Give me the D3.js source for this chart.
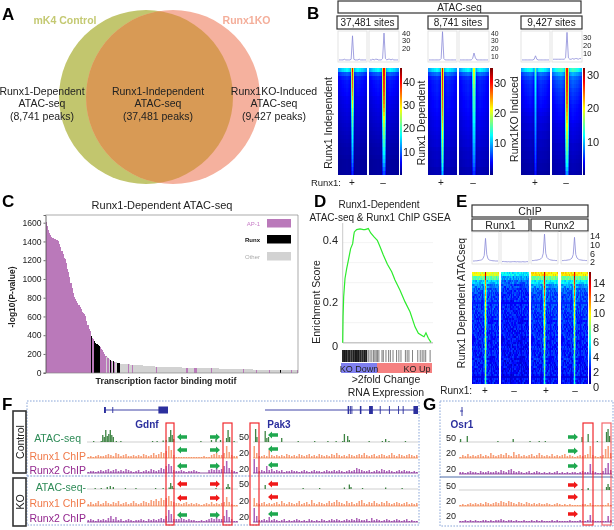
<!DOCTYPE html>
<html><head><meta charset="utf-8">
<script src="https://cdn.jsdelivr.net/npm/d3@7"></script>
<style>
html,body{margin:0;padding:0;background:#fff}
svg{display:block;filter:blur(0.4px)}
text{font-family:"Liberation Sans",Arial,sans-serif;fill:#222}
</style></head><body>
<svg id="fig" width="614" height="530" viewBox="0 0 614 530"></svg>
<script>
// ---------- DATA ----------
// A
const vennLabels=[["Runx1-Dependent","ATAC-seq","(8,741 peaks)"],["Runx1-Independent","ATAC-seq","(37,481 peaks)"],["Runx1KO-Induced","ATAC-seq","(9,427 peaks)"]];
// B : fraction of colour bar per heat map row
const b1PlusCenter=[.88,.84,.82,.8,.78,.75,.72,.68,.64,.6,.56,.53,.5,.47,.45,.42,.4,.38,.36,.34,.32,.3,.28,.26,.23,.2,.17];
const b1MinusCenter=[.88,.87,.85,.84,.83,.82,.8,.78,.76,.73,.7,.66,.62,.58,.55,.52,.5,.47,.44,.42,.39,.37,.34,.32,.28,.24,.2];
const b2PlusCenter=[.9,.88,.87,.85,.84,.83,.82,.8,.78,.77,.75,.73,.7,.68,.65,.63,.6,.58,.55,.53,.5,.48,.46,.44,.4,.36,.32];
const b2MinusCenter=[.62,.58,.55,.53,.5,.48,.47,.45,.44,.43,.42,.4,.39,.38,.36,.35,.34,.33,.32,.3,.29,.28,.26,.25,.23,.2,.17];
const b3PlusCenter=[.5,.44,.4,.38,.37,.36,.35,.34,.33,.32,.31,.3,.3,.29,.28,.27,.26,.25,.24,.23,.22,.21,.2,.19,.17,.16,.14];
const b3MinusCenter=[.86,.85,.84,.84,.83,.82,.8,.79,.78,.75,.73,.7,.68,.65,.62,.6,.57,.55,.52,.5,.48,.45,.42,.4,.37,.33,.28];
const b1Flank=[.34,.2,.15,.135,.13,.125,.12,.11,.1,.095,.09,.085,.08,.075,.07,.065,.06,.055,.05,.045,.04,.04,.035,.03,.03,.03,.03];
const b2Flank=[.34,.22,.16,.145,.14,.14,.135,.13,.125,.125,.12,.115,.11,.1,.1,.095,.09,.085,.08,.08,.07,.065,.065,.06,.06,.05,.05];
const b3PlusFlank=[.36,.22,.18,.16,.15,.145,.14,.13,.125,.12,.11,.1,.09,.09,.08,.08,.07,.07,.06,.06,.055,.05,.05,.045,.04,.04,.035];
const b3MinusFlank=[.4,.28,.22,.2,.19,.175,.165,.155,.145,.135,.13,.125,.12,.11,.1,.095,.09,.085,.08,.07,.07,.065,.06,.055,.05,.05,.045];
const bColPeak=[0,0,0,0,0,0,0,0,0,0,0,0,0,.65,1,.65,0,0,0,0,0,0,0,0,0,0,0,0,0];
const bColFlank=[.8,.85,.9,.95,1,1,1.05,1.05,1.1,1.1,1.05,1,.85,.65,.5,.65,.85,1,1.05,1.1,1.1,1.05,1.05,1,1,.95,.9,.85,.8];
const b1PlusProfile=[3,3,3,3,4,3,3,3,3,4,38,4,3,3,3,4,3,3,3,3,3];
const b1MinusProfile=[3,3,4,3,4,4,3,3,3,5,42,5,3,4,4,3,4,3,3,3,3];
const b2PlusProfile=[3,3,3,3,3,3,3,3,3,5,44,5,3,3,3,3,3,3,3,3,3];
const b2MinusProfile=[3,3,3,3,3,3,3,3,3,5,13,6,3,3,3,3,3,3,3,3,3];
const b3PlusProfile=[3,3,3,3,3,3,3,3,3,4,9,4,3,3,3,3,3,3,3,3,3];
const b3MinusProfile=[4,4,4,4,4,4,4,4,4,6,43,6,4,4,5,4,5,5,4,5,5];
const b1BarTicks=[10,20,30,40], b2BarTicks=[10,20,30], b3BarTicks=[10,20,30];
// C
const motifP=[1610,1570,1520,1490,1470,1450,1440,1430,1425,1420,1415,1400,1370,1340,1300,1270,1225,1210,1170,1110,1070,1020,960,900,850,810,785,765,745,720,700,675,650,635,630,600,550,510,470,440,395,375,355,335,315,305,295,285,270,255,245,225,200,180,165,155,145,135,130,125,120,115,112,108,105,100,97,95,94,93,92,91,90,89,88,87,86,85,84,83,82,81,80,79,78,77,76,75,74,73,72,71,70,70,69,68,67,66,66,65,65,64,64,63,63,62,62,61,61,60,60,59,59,58,58,58,57,57,56,56,56,55,55,55,54,54,54,53,53,53,52,52,52,51,51,51,50,50,50,49,49,49,48,48,48,47,47,47,46,46,46,45,45,45,44,44,44,43,43,43,42,42,42,41,41,41,40,40,40,39,39,39,38,38,38,37,37,37,36,36,36,35,35,35,34,34,34,33,33,33,32,32,32,31,31,31,30,30,30,30,29,29,29,29,28,28,28,28,27,27,27,27,26,26,26,26,25,25,25,25,25,25,25,25];
const motifRunx=[40,43,44,45,46,47,57,60,63,64,65,208];
const motifAp1Late=[55,58,61,73,77,98,125,132,133,147,175,187,198,218,223,230];
const motifTicks=[0,200,400,600,800,1000,1200,1400,1600];
// D
const gseaRank=[0,.4,1.1,2.6,4.5,6.4,9,11.3,12.5,13.2,15.8,19.6,23.4,25.3,29,31.7,35.5,39.2,42.3,46,50.6,55.5,59.2,64.9,70.6,76.2,81.9,85.7,90.6,92.1,94.3,97,100];
const gseaES=[0,.1,.177,.247,.285,.317,.362,.381,.413,.426,.435,.438,.435,.435,.439,.422,.407,.394,.369,.337,.302,.273,.241,.202,.157,.119,.061,.036,.026,.023,.038,.017,.001];
const gseaHits=[0,1.2,2.2,3.5,4.5,6,7,8,9.5,10.5,12,13,14.5,15.5,17,18,19.5,20.5,22,23,24.5,25.5,27,29,31,33,35,36.5,38,39.5,41,44.5,46,49,52,54,57,61,63.6,66,71,73,75,79,85,87.8,90,92,94,99];
const gseaGrid=[.077,.154,.231,.308,.385];
// E
const eR1PlusCenter=[.92,.9,.75,.72,.7,.68,.66,.65,.64,.62,.61,.6,.58,.57,.56,.55,.54,.54,.53,.52,.52,.51,.5,.5,.49,.48,.47,.46];
const eR1MinusCenter=[0,0,0,0,0,0,0,0,0,0,0,0,0,0,0,0,0,0,0,0,0,0,0,0,0,0,0,0];
const eR2PlusCenter=[.92,.92,.88,.85,.8,.76,.72,.7,.68,.66,.65,.63,.62,.6,.58,.57,.56,.54,.53,.52,.5,.49,.48,.47,.46,.45,.44,.42];
const eR2MinusCenter=[.9,.9,.86,.82,.78,.74,.7,.67,.65,.63,.61,.6,.58,.56,.55,.54,.53,.51,.5,.49,.48,.47,.46,.45,.44,.43,.42,.4];
const eR1PlusFlank=[.6,.46,.32,.25,.21,.19,.18,.18,.17,.17,.17,.16,.16,.16,.16,.15,.15,.15,.15,.15,.15,.14,.14,.14,.14,.14,.13,.13];
const eR1MinusFlank=[.36,.28,.22,.19,.17,.16,.16,.15,.15,.15,.15,.14,.14,.14,.14,.14,.13,.13,.13,.13,.13,.13,.12,.12,.12,.12,.12,.12];
const eR2Flank=[.64,.48,.36,.27,.22,.2,.19,.19,.18,.18,.17,.17,.17,.16,.16,.16,.16,.15,.15,.15,.15,.15,.14,.14,.14,.14,.13,.13];
const eR1Wide=[.8,.6,.45,.38,.34,.32,.3,.29,.28,.27,.27,.26,.26,.25,.25,.24,.24,.23,.23,.23,.22,.22,.22,.21,.21,.2,.2,.2];
const eR2Wide=[.85,.8,.72,.62,.52,.45,.4,.36,.33,.31,.3,.29,.28,.27,.26,.26,.25,.25,.24,.24,.23,.23,.23,.22,.22,.21,.21,.2];
const eColPeak=[0,0,0,0,0,0,0,0,0,0,0,0,.5,1,.5,0,0,0,0,0,0,0,0,0,0,0,0];
const eColWide=[0,0,0,0,0,0,0,0,0,0,.1,.3,.6,1,.6,.3,.1,0,0,0,0,0,0,0,0,0,0];
const eSpeckle=[.03,-.02,.01,-.04,.02,.05,-.03,0,.04,-.01,-.05,.02,.03,-.02,.06,-.03,.01,-.04,.03,0,-.02,.05,-.01,-.05,.02,.04,-.03,.01,-.02,.03,-.04,.05,0,-.03,.02,-.01,.04];
const eR1PlusProfile=[1.4,1.4,1.5,1.5,1.6,1.7,1.8,2,2.5,4,12,4.5,2.4,1.9,1.7,1.6,1.5,1.5,1.4,1.4,1.4];
const eR1MinusProfile=[1.1,1.2,1.1,1.1,1,1.1,1,1,1.1,1.1,1.1,1,1.1,1,1,1,1.1,1,1,1.1,1.1];
const eR2PlusProfile=[1.6,1.6,1.7,1.8,1.8,2,2.1,2.4,3,5,14,5,3,2.4,2.1,1.9,1.8,1.7,1.7,1.6,1.6];
const eR2MinusProfile=[1.6,1.6,1.7,1.7,1.8,1.9,2,2.3,2.8,4.5,12.5,4.5,2.8,2.3,2,1.9,1.8,1.7,1.7,1.6,1.6];
const eBarTicks=[0,2,4,6,8,10,12,14], eProfileTicks=[2,6,10,14];
// F / G tracks
const fLeftAtacCtrl=[[10,7],[11,5],[12,12],[13,6],[14,8],[15,12],[16,7],[17,5],[9,1],[4,1],[19,1],[22,1],[43,1],[46,1],[50,1.5],[52,2],[54,5],[55,12],[56,7],[57,3],[75,1],[82,2],[85,3],[88,2],[92,4],[93,12],[94,5],[97,1]];
const fLeftAtacKO=[[5,1],[9,1],[13,2],[15,3],[17,2],[25,1],[32,1],[45,1],[50,1],[54,1.5],[55,6],[56,3],[57,1],[85,1],[92,2],[93,5],[94,2]];
const fRightAtacCtrl=[[1.2,13],[2,5],[7,11],[8,4],[9,5],[17,4],[27,1],[37,1],[45,1],[50,1],[54,1],[55,8],[57,6],[58,2],[70,1],[78,1],[80,3],[82,1],[92,1]];
const fRightAtacKO=[[7,4],[30,1],[40,1],[55,1.5],[58,4.5],[59,2],[66,1],[80,1.5],[90,1]];
const gAtacCtrl=[[.6,3],[5,6],[25,1],[35,3],[46,1],[52,1],[56,1],[80,5],[84,8],[90,1],[96,10],[97,13],[98,6]];
const gAtacKO=[[80,1],[84,2],[96,3],[97,6],[98,3]];
const fLeftRunx1Ctrl=[1,2,1,2,3,2,2,3,4,3,2,5,4,2,3,4,2,2,3,2,3,2,4,3,2,3,5,3,4,6,5,7,12,8,3,1,1,1,1,1,1,1,1,1,1,1,2,1,1,3,4,5,3,3,5,12,6,3,2,2];
const fLeftRunx2Ctrl=[1,2,2,1,2,3,2,3,4,2,3,4,2,3,2,4,3,2,1,2,3,1,2,3,2,4,3,2,3,5,4,7,9,7,3,2,2,3,2,1,2,2,3,2,1,0,0,0,3,4,3,5,3,4,7,12,5,3,2,1];
const fLeftRunx1KO=[2,4,2,3,5,2,3,5,3,2,4,3,5,2,3,4,2,3,5,3,2,3,5,4,3,6,5,7,5,8,6,8,10,5,4,3,3,2,3,4,2,3,2,3,2,1,2,3,2,4,2,3,2,3,4,9,4,2,1,1];
const fLeftRunx2KO=[2,3,2,1,3,2,3,2,4,6,3,5,2,3,1,2,3,2,1,2,2,3,2,1,3,2,3,2,3,4,3,6,12,8,3,3,3,4,3,2,3,2,2,1,1,2,1,2,3,4,3,5,3,3,6,12,5,3,1,1];
const fRightRunx1Ctrl=[12,5,2,2,3,2,8,3,2,3,2,3,2,4,3,2,3,2,4,3,2,3,4,2,3,2,4,3,2,3,2,4,3,5,3,2,3,2,4,3,2,3,4,3,5,3,2,3,4,2,3,4,3,2,3,5,3,2,4,3,2,3,4,3,2,3];
const fRightRunx2Ctrl=[14,6,2,3,2,7,3,4,2,3,2,3,1,2,2,3,2,2,1,2,3,2,1,2,3,2,2,1,2,3,2,2,3,2,3,2,1,2,3,2,3,5,4,3,2,2,3,1,2,3,2,4,3,2,3,2,1,2,3,2,3,2,2,1,2,1];
const fRightRunx1KO=[8,3,2,3,4,2,3,2,3,4,2,5,3,2,4,3,2,3,5,2,3,4,2,6,3,2,4,3,2,3,5,3,4,6,4,3,2,5,3,4,2,3,5,6,3,2,4,3,5,3,2,4,3,5,3,2,3,4,3,2,3,4,2,3,2,3];
const fRightRunx2KO=[14,6,2,2,3,2,5,2,3,2,1,2,3,1,2,1,2,3,2,1,2,1,3,2,1,2,1,3,2,1,2,3,2,3,2,1,2,3,2,3,2,4,3,2,2,3,1,4,2,3,2,1,2,3,2,1,2,3,2,1,2,3,1,2,1,1];
const gRunx1Ctrl=[1,3,2,4,2,3,2,3,4,2,3,2,5,3,2,3,4,3,5,3,2,6,3,4,2,3,2,3,4,2,3,5,3,2,3,2,4,2,3,2,3,4,2,3,2,1,2,3,2,3,4,12,3,2,1,2,3,9,12,5];
const gRunx2Ctrl=[2,2,1,2,3,2,2,1,3,2,2,3,2,2,3,2,4,3,2,4,5,3,2,3,2,1,2,3,1,2,3,2,1,2,1,2,1,2,3,1,2,1,2,1,2,2,1,2,3,2,2,10,3,2,1,1,3,6,11,4];
const gRunx1KO=[1,2,1,2,3,2,3,2,3,2,4,3,2,3,4,3,5,4,3,5,4,3,2,4,3,2,4,3,2,3,2,3,2,2,3,2,1,2,3,2,1,2,1,2,1,1,1,1,2,2,1,3,1,1,1,1,1,1,3,1];
const gRunx2KO=[1,1,2,1,2,1,2,1,1,2,2,1,2,1,2,2,3,2,1,2,2,1,2,1,1,2,1,1,2,1,2,1,2,1,1,1,2,1,2,1,1,1,1,2,1,1,1,2,1,1,2,7,2,1,1,1,1,1,6,2];
const gdnfExons=[[0,3],[13,14],[85,100]];
const pak3Exons=[[54,55],[55.5,56],[56.5,57],[62,63],[68,70.5],[75,75.6],[81,81.6],[87,87.6],[90,90.6],[97,100]];

// ---------- HELPERS ----------
const svg=d3.select("#fig");
const T=(s,x,y,o={})=>{const t=svg.append("text").attr("x",x).attr("y",y).text(s)
  .attr("font-size",o.size||10).attr("text-anchor",o.anchor||"middle");
  if(o.weight)t.attr("font-weight",o.weight); if(o.fill)t.style("fill",o.fill);
  if(o.rot)t.attr("transform",`rotate(${o.rot} ${x} ${y})`); return t;};
const jet=d3.scaleLinear().domain([0,.125,.375,.625,.875,1])
  .range(["#00007f","#0000ff","#00ffff","#ffff00","#ff0000","#7f0000"]).clamp(true);
const panelLetter=(s,x,y)=>T(s,x,y,{size:17,weight:"bold",anchor:"start",fill:"#000"});
const box=(x0,x1,y0,y1,label,size,sw,c)=>{svg.append("rect").attr("x",x0).attr("y",y0).attr("width",x1-x0).attr("height",y1-y0)
  .attr("fill","#fff").attr("stroke",c||"#333").attr("stroke-width",sw||1.2);
  if(label)T(label,(x0+x1)/2,(y0+y1)/2+size*.36,{size});};

function heat(x0,x1,y0,y1,center,flank,colPeak,colFlank,opts={}){
  const rowsPerValue=opts.rowsPerValue||1, nR=center.length*rowsPerValue, nC=colPeak.length;
  const x=d3.scaleBand().domain(d3.range(nC)).range([x0,x1]);
  const y=d3.scaleBand().domain(d3.range(nR)).range([y0,y1]);
  const cells=[];
  for(let r=0;r<nR;r++){const v=Math.floor(r/rowsPerValue);for(let c=0;c<nC;c++){
    let t=Math.max(flank[v]*colFlank[c],center[v]*colPeak[c]);
    if(opts.wide)t=Math.max(t,opts.wide[v]*opts.colWide[c]);
    if(opts.speckle)t+=opts.speckle[(r*17+c*29+r*c*3)%opts.speckle.length];
    cells.push({r,c,t});}}
  svg.append("g").attr("shape-rendering","crispEdges").selectAll("rect").data(cells).join("rect")
    .attr("x",d=>x(d.c)).attr("y",d=>y(d.r)).attr("width",x.bandwidth()+.3).attr("height",y.bandwidth()+.3)
    .attr("fill",d=>jet(d.t));
}
function colorbar(x0,x1,y0,y1){
  const t=d3.scaleLinear().domain([y1,y0]).range([0,1]);
  svg.append("g").attr("shape-rendering","crispEdges").selectAll("rect").data(d3.range(y0,y1)).join("rect")
    .attr("x",x0).attr("y",d=>d).attr("width",x1-x0).attr("height",1.2).attr("fill",d=>jet(t(d)));
}
function profile(x0,x1,y0,y1,vals,yS){
  svg.append("rect").attr("x",x0).attr("y",y0).attr("width",x1-x0).attr("height",y1-y0).attr("fill","#fff").attr("stroke","#ddd").attr("stroke-width",.8);
  const x=d3.scaleLinear().domain([0,vals.length-1]).range([x0+1,x1-1]);
  svg.append("path").attr("d",d3.line().x((d,i)=>x(i)).y(d=>yS(d))(vals)).attr("fill","none").attr("stroke","#8a8ad8").attr("stroke-width",.8);
}
function chip(x0,x1,base,vals,color,band){
  const x=d3.scaleBand().domain(d3.range(vals.length)).range([x0,x1]);
  const h=d3.scaleLinear().domain([0,14]).range([0,14]);
  svg.append("line").attr("x1",x0).attr("x2",x1).attr("y1",base).attr("y2",base).attr("stroke",band).attr("stroke-width",1.3);
  svg.append("g").selectAll("rect").data(vals).join("rect")
    .attr("x",(d,i)=>x(i)+.5).attr("width",Math.max(1,x.bandwidth()-1)).attr("y",d=>base-h(d)).attr("height",d=>h(d))
    .attr("fill",color).attr("opacity",.7);
}
function atac(x0,x1,base,peaks){
  const x=d3.scaleLinear().domain([0,100]).range([x0,x1]);
  const h=d3.scaleLinear().domain([0,14]).range([0,14]);
  svg.append("line").attr("x1",x0).attr("x2",x1).attr("y1",base).attr("y2",base).attr("stroke","#cfcfcf").attr("stroke-width",1);
  svg.append("g").selectAll("rect").data(peaks).join("rect")
    .attr("x",d=>x(d[0])).attr("width",1.3).attr("y",d=>base-h(d[1])).attr("height",d=>h(d[1]))
    .attr("fill","#1c6f22").attr("opacity",.85);
}
function arrow(x0,x1,yc,dir,color){
  const hd=4, a=dir>0?x0:x1, b=dir>0?x1:x0, n=dir>0?b-hd:b+hd;
  svg.append("path").attr("d",`M${a},${yc-1.7}L${n},${yc-1.7}L${n},${yc-3.5}L${b},${yc}L${n},${yc+3.5}L${n},${yc+1.7}L${a},${yc+1.7}Z`).attr("fill",color);
}
const GREEN="#1fa84f", RED="#f01818";

// ---------- A ----------
const yA=d3.scaleLinear().domain([0,1]).range([9,185]);
const rA=87, cyA=yA(.5), cxL=146, cxR=173;
svg.append("defs").append("clipPath").attr("id","lc").append("circle").attr("cx",cxL).attr("cy",cyA).attr("r",rA);
svg.append("circle").attr("cx",cxL).attr("cy",cyA).attr("r",rA).attr("fill","#C2C66E");
svg.append("circle").attr("cx",cxR).attr("cy",cyA).attr("r",rA).attr("fill","#F5B19E");
svg.append("circle").attr("cx",cxR).attr("cy",cyA).attr("r",rA).attr("fill","#D89A55").attr("clip-path","url(#lc)");
panelLetter("A",2,20);
T("mK4 Control",65,24,{size:10.5,weight:"bold",fill:"#C4C972"});
T("Runx1KO",246.5,24,{size:10.5,weight:"bold",fill:"#F4AE9A"});
[42,158,274].forEach((cx,i)=>vennLabels[i].forEach((s,j)=>T(s,cx,94.5+j*12.6,{size:10.5})));

// ---------- B ----------
panelLetter("B",307,19);
box(338,581,1,13,"ATAC-seq",10);
box(337,398,16,29,"37,481 sites",10);
box(428,488,16,29,"8,741 sites",10);
box(521,582,16,29,"9,427 sites",10);
const yB=d3.scaleLinear().domain([0,45]).range([62,31]);
const bPanels=[[338,367,b1PlusProfile,b1PlusCenter,b1Flank],[369,399,b1MinusProfile,b1MinusCenter,b1Flank],
 [428,457,b2PlusProfile,b2PlusCenter,b2Flank],[459,489,b2MinusProfile,b2MinusCenter,b2Flank],
 [521,550,b3PlusProfile,b3PlusCenter,b3PlusFlank],[552,582,b3MinusProfile,b3MinusCenter,b3MinusFlank]];
bPanels.forEach(p=>{profile(p[0],p[1],31,62,p[2],yB);heat(p[0],p[1],68,175,p[3],p[4],bColPeak,bColFlank);});
const profTickB1=d3.scaleLinear().domain([20,40]).range([48,33]);
[20,30,40].forEach(v=>T(v,402,profTickB1(v)+2.7,{size:7.5,anchor:"start"}));
const profTickB2=d3.scaleLinear().domain([10,40]).range([56,33]);
[10,20,30,40].forEach(v=>T(v,491,profTickB2(v)+2.5,{size:6.8,anchor:"start"}));
const profTickB3=d3.scaleLinear().domain([10,30]).range([53,37]);
[10,20,30].forEach(v=>T(v,583,profTickB3(v)+2.7,{size:7.5,anchor:"start"}));
colorbar(400,402,68,175);colorbar(490,493,68,175);colorbar(583,585,68,175);
const barB1=d3.scaleLinear().domain([0,46]).range([175,68]);
b1BarTicks.forEach(v=>T(v,403,barB1(v)+4,{size:11,anchor:"start"}));
const barB2=d3.scaleLinear().domain([0,35]).range([173,68]);
b2BarTicks.forEach(v=>T(v,494,barB2(v)+4,{size:11,anchor:"start"}));
const barB3=d3.scaleLinear().domain([0,32]).range([175,68]);
b3BarTicks.forEach(v=>T(v,587,barB3(v)+4,{size:11,anchor:"start"}));
T("Runx1 Independent",331.5,123,{size:10.5,rot:-90});
T("Runx1 Dependent",425,123,{size:10.5,rot:-90});
T("Runx1KO Induced",517.5,119,{size:10.5,rot:-90});
T("Runx1:",341,186,{size:9.5,anchor:"end"});
[[352,"+"],[383,"–"],[441,"+"],[473,"–"],[535,"+"],[566,"–"]].forEach(d=>T(d[1],d[0],186,{size:10}));

// ---------- C ----------
panelLetter("C",2,207);
T("Runx1-Dependent ATAC-seq",162,209,{size:11});
const xC=d3.scaleBand().domain(d3.range(motifP.length)).range([45.5,298]);
const yC=d3.scaleLinear().domain([0,1682]).range([372.7,215]);
const motifClass=i=>motifRunx.includes(i)?"runx":(i<54||motifAp1Late.includes(i))?"ap1":"other";
const motifColor={ap1:"#BA79BA",runx:"#000",other:"#D2D2D2"};
svg.append("g").attr("shape-rendering","crispEdges").selectAll("rect").data(motifP).join("rect")
  .attr("x",(d,i)=>xC(i)).attr("width",xC.bandwidth()+.2).attr("y",d=>yC(d)).attr("height",d=>yC(0)-yC(d))
  .attr("fill",(d,i)=>motifColor[motifClass(i)]);
const axC=svg.append("g").attr("transform","translate(45.5,0)").call(d3.axisLeft(yC).tickValues(motifTicks).tickFormat(d3.format("d")).tickSize(2).tickPadding(2));
axC.selectAll("text").attr("font-size",8.6).style("font-family",'"Liberation Sans",Arial,sans-serif');
axC.selectAll("line,path").attr("stroke","#444").attr("stroke-width",.8);
svg.append("path").attr("d","M45.5,215H298V373H45.5").attr("fill","none").attr("stroke","#888").attr("stroke-width",.7);
T("-log10(P-value)",15,297,{size:8.5,weight:"bold",rot:-90});
T("Transcription factor binding motif",166,384,{size:8.8,weight:"bold"});
[["AP-1","#C77CC7","normal",motifColor.ap1,219],["Runx","#111","bold",motifColor.runx,235],["Other","#aaa","normal",motifColor.other,252]].forEach(d=>{
  T(d[0],260,d[4]+7,{size:6,anchor:"end",fill:d[1],weight:d[2]});
  svg.append("rect").attr("x",267).attr("y",d[4]).attr("width",24).attr("height",8.5).attr("fill",d[3]);
});

// ---------- D ----------
panelLetter("D",314,207);
T("Runx1-Dependent",379,208,{size:10});
T("ATAC-seq & Runx1 ChIP GSEA",380,221,{size:10});
const xD=d3.scaleLinear().domain([0,100]).range([342.7,431]);
const yD=d3.scaleLinear().domain([0,.44]).range([342.7,228.3]);
svg.append("g").selectAll("line").data(gseaGrid).join("line").attr("x1",343).attr("x2",433).attr("y1",d=>yD(d)).attr("y2",d=>yD(d)).attr("stroke","#f0f0f0").attr("stroke-width",.8);
svg.append("line").attr("x1",342.7).attr("x2",342.7).attr("y1",223).attr("y2",343).attr("stroke","#c4c4c4").attr("stroke-width",.9);
svg.append("line").attr("x1",343).attr("x2",433).attr("y1",342.7).attr("y2",342.7).attr("stroke","#c8c8c8").attr("stroke-width",1.4);
svg.append("path").datum(gseaES).attr("d",d3.line().x((d,i)=>xD(gseaRank[i])).y(d=>yD(d))).attr("fill","none").attr("stroke","#2CEB2C").attr("stroke-width",1.2);
const tickD=d3.scaleLinear().domain([0,.2,.4]).range([346,302,240]);
[0,.2,.4].forEach(v=>T(v,338,tickD(v)+4,{size:11,anchor:"end"}));
T("Enrichment Score",320,302,{size:10.5,rot:-90});
svg.append("g").selectAll("line").data(gseaHits).join("line").attr("x1",d=>xD(d)).attr("x2",d=>xD(d)).attr("y1",350).attr("y2",362)
  .attr("stroke","#111").attr("stroke-width",d=>d<28?1.3:.9).attr("opacity",d=>d<28?.95:.6);
svg.append("rect").attr("x",341).attr("y",363).attr("width",36).attr("height",10).attr("fill","#7F7FEF");
svg.append("rect").attr("x",377).attr("y",363).attr("width",55).attr("height",10).attr("fill","#F58080");
T("KO Down",359,372,{size:9});
T("KO Up",417,372,{size:9});
T(">2fold Change",386,383,{size:10.5});
T("RNA Expression",386,395.5,{size:10.5});

// ---------- E ----------
panelLetter("E",456,207);
box(472,588,205,217,"ChIP",10.5);
box(472,529,219,231,"Runx1",10.5);
box(531,588,219,231,"Runx2",10.5);
const yEp=d3.scaleLinear().domain([0,15]).range([264,232]);
const ePanels=[[472,499,eR1PlusProfile,eR1PlusCenter,eR1PlusFlank,eR1Wide],[501,529,eR1MinusProfile,eR1MinusCenter,eR1MinusFlank,null],
 [531,558,eR2PlusProfile,eR2PlusCenter,eR2Flank,eR2Wide],[561,588,eR2MinusProfile,eR2MinusCenter,eR2Flank,eR2Wide]];
ePanels.forEach(p=>{profile(p[0],p[1],232,264,p[2],yEp);
  heat(p[0],p[1],272,384,p[3],p[4],eColPeak,eColPeak.map(()=>1),{rowsPerValue:2,speckle:eSpeckle,wide:p[5]||undefined,colWide:eColWide});});
colorbar(589,591,272,384);
const barE=d3.scaleLinear().domain([0,14]).range([387,283]);
eBarTicks.forEach(v=>T(v,593,barE(v)+4,{size:11,anchor:"start"}));
const tickEp=d3.scaleLinear().domain([2,14]).range([262,236]);
eProfileTicks.forEach(v=>T(v,590,tickEp(v)+3.2,{size:9,anchor:"start"}));
T("Runx1 Dependent ATACseq",464.5,303,{size:10.5,rot:-90});
T("Runx1:",472,394,{size:10,anchor:"end"});
[[485,"+"],[514,"–"],[546,"+"],[575,"–"]].forEach(d=>T(d[1],d[0],394,{size:10}));

// ---------- F ----------
panelLetter("F",2,410);
const DOT="#7d9cd4";
svg.append("rect").attr("x",27).attr("y",401).attr("width",392).attr("height",124).attr("fill","none").attr("stroke",DOT).attr("stroke-width",.9).attr("stroke-dasharray","1.6 1.4");
svg.append("line").attr("x1",27).attr("x2",419).attr("y1",476).attr("y2",476).attr("stroke",DOT).attr("stroke-width",1).attr("stroke-dasharray","2 1.2");
box(13,26,411,473,null,0,1.6);box(13,26,478,526,null,0,1.6);
T("Control",23.5,442,{size:10.5,rot:-90});
T("KO",23.5,502,{size:10.5,rot:-90});
const NAVY="#2B2F9E";
function gene(x0,x1,y,exons,h){
  const x=d3.scaleLinear().domain([0,100]).range([x0,x1]);
  svg.append("line").attr("x1",x0).attr("x2",x1).attr("y1",y).attr("y2",y).attr("stroke",NAVY).attr("stroke-width",.9);
  svg.append("g").selectAll("rect").data(exons).join("rect").attr("x",d=>x(d[0])).attr("width",d=>Math.max(.9,x(d[1])-x(d[0])))
    .attr("y",d=>d[1]-d[0]>10?y-3.5:y-h).attr("height",d=>d[1]-d[0]>10?7:2*h).attr("fill",NAVY);
}
gene(104,168,410,gdnfExons,3);
gene(265,418,410,pak3Exons,4);
T("Gdnf",147,428,{size:10,weight:"bold",fill:NAVY});
T("Pak3",279,428,{size:10,weight:"bold",fill:NAVY});
const ORANGE="#F3743E",ORBAND="#F6C4A8",PURPLE="#8A1F9A",PUBAND="#B48BC0";
atac(87,238,442,fLeftAtacCtrl);chip(87,238,458,fLeftRunx1Ctrl,ORANGE,ORBAND);chip(87,238,473,fLeftRunx2Ctrl,PURPLE,PUBAND);
atac(87,238,489,fLeftAtacKO);chip(87,238,506,fLeftRunx1KO,ORANGE,ORBAND);chip(87,238,522,fLeftRunx2KO,PURPLE,PUBAND);
atac(253,418,442,fRightAtacCtrl);chip(253,418,458,fRightRunx1Ctrl,ORANGE,ORBAND);chip(253,418,473,fRightRunx2Ctrl,PURPLE,PUBAND);
atac(253,418,489,fRightAtacKO);chip(253,418,506,fRightRunx1KO,ORANGE,ORBAND);chip(253,418,522,fRightRunx2KO,PURPLE,PUBAND);
T("ATAC-seq",81,441.5,{size:10.5,anchor:"end",fill:"#2E8B57"});
T("Runx1 ChIP",86,459.5,{size:10.5,anchor:"end",fill:"#F07A4A"});
T("Runx2 ChIP",86,473.5,{size:10.5,anchor:"end",fill:"#93278F"});
T("ATAC-seq-",86,490.5,{size:10.5,anchor:"end",fill:"#2E8B57"});
T("Runx1 ChIP",86,506.5,{size:10.5,anchor:"end",fill:"#F07A4A"});
T("Runx2 ChIP",86,521.5,{size:10.5,anchor:"end",fill:"#93278F"});
[[50,437],[20,453],[20,469],[50,484],[20,501],[20,517]].forEach(d=>T(d[0],244,d[1]+3,{size:9}));
[[437,GREEN],[450,GREEN],[466,GREEN],[484,RED],[498,RED],[515,GREEN]].forEach(d=>{
  arrow(177,187,d[0],-1,d[1]);arrow(210,220,d[0],1,d[1]);});
[[435,GREEN],[449,GREEN],[465,GREEN],[484,RED],[497,RED],[514,GREEN]].forEach(d=>arrow(268,278,d[0],-1,d[1]));
[[166,174],[223,232],[250,259]].forEach(d=>svg.append("rect").attr("x",d[0]).attr("y",423).attr("width",d[1]-d[0]).attr("height",102).attr("fill","none").attr("stroke","#f0282e").attr("stroke-width",1.2));

// ---------- G ----------
panelLetter("G",423,410);
svg.append("rect").attr("x",440).attr("y",401).attr("width",173).attr("height",125).attr("fill","none").attr("stroke",DOT).attr("stroke-width",.9).attr("stroke-dasharray","1.6 1.4");
svg.append("line").attr("x1",440).attr("x2",613).attr("y1",477).attr("y2",477).attr("stroke","#4a6aa8").attr("stroke-width",1);
svg.append("line").attr("x1",462).attr("x2",462).attr("y1",407).attr("y2",416).attr("stroke",NAVY).attr("stroke-width",.9);
svg.append("line").attr("x1",460).attr("x2",463).attr("y1",411).attr("y2",411).attr("stroke",NAVY).attr("stroke-width",.9);
T("Osr1",462,428,{size:10,weight:"bold",fill:NAVY});
[[50,438],[20,453],[20,469],[50,486],[20,501],[20,516]].forEach(d=>T(d[0],451,d[1]+3,{size:9}));
atac(459,612,442,gAtacCtrl);chip(459,612,458,gRunx1Ctrl,ORANGE,ORBAND);chip(459,612,474,gRunx2Ctrl,PURPLE,PUBAND);
atac(459,612,490,gAtacKO);chip(459,612,506,gRunx1KO,ORANGE,ORBAND);chip(459,612,522,gRunx2KO,PURPLE,PUBAND);
[[437,GREEN],[451,GREEN],[466,GREEN],[485,RED],[497,RED],[514,RED]].forEach(d=>arrow(568,578,d[0],1,d[1]));
svg.append("rect").attr("x",583).attr("y",423).attr("width",10).attr("height",102).attr("fill","none").attr("stroke","#f0282e").attr("stroke-width",1.2);
svg.append("rect").attr("x",602).attr("y",423).attr("width",9).attr("height",102).attr("fill","none").attr("stroke","#f0282e").attr("stroke-width",1.2).attr("opacity",.7);
</script>
</body></html>
